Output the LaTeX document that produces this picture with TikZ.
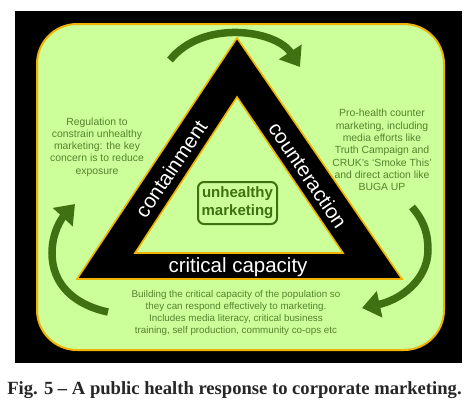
\documentclass[tikz,border=0pt]{standalone}
\usepackage{fontspec}
\setmainfont{Liberation Sans}
\newfontfamily\capfont{Liberation Serif}
\usetikzlibrary{arrows.meta}
\definecolor{bgreen}{RGB}{204,255,153}
\definecolor{ygold}{RGB}{240,180,0}
\definecolor{agreen}{RGB}{63,112,17}
\definecolor{tgreen}{RGB}{84,130,45}
\begin{document}
\begin{tikzpicture}[x=1pt,y=-1pt,
  panel/.style={draw=ygold, line width=2pt, fill=bgreen, rounded corners=40pt},
  tri/.style={draw=ygold, line width=1.6pt, fill=black, line join=miter},
  innertri/.style={draw=ygold, line width=1.6pt, fill=bgreen, line join=miter},
  band/.style={text=white, inner sep=0pt, font=\fontsize{20.5}{24}\selectfont},
  para/.style={text=tgreen, align=center, inner sep=0pt, font=\fontsize{10.4}{12.3}\selectfont},
  core/.style={draw=agreen, line width=2pt, rounded corners=6pt, text=agreen, align=center,
    font=\bfseries\fontsize{15}{18}\selectfont, minimum width=79pt, minimum height=42pt, inner sep=0pt},
  bigarrow/.style={draw=agreen, line width=7.5pt, -{Triangle[length=18pt,width=26pt]}},
  captext/.style={font=\capfont\bfseries\fontsize{18.6}{22}\selectfont, text=black!85, inner sep=0pt, anchor=base}
]
\useasboundingbox (0,0) rectangle (467,415);
\fill[white] (0,0) rectangle (467,415);
\fill[black] (15,11) rectangle (462,363);
\draw[panel] (37,24) rectangle (444,350);

% triangle
\draw[tri] (237,38) -- (402,279) -- (77,279) -- cycle;
\draw[innertri] (237,97) -- (343,253) -- (135,253) -- cycle;

\node[band, rotate=56] (cont) at (171,169) {containment};
\node[band, rotate=-56] (counter) at (308,175) {counteraction};
\node[band] (crit) at (238,267) {critical capacity};

\node[core] (core) at (237.5,203) {unhealthy\\marketing};

% texts
\node[para] (reg) at (97,147) {Regulation to\\constrain unhealthy\\marketing: the key\\concern is to reduce\\exposure};
\node[para] (pro) at (382,150) {Pro-health counter\\marketing, including\\media efforts like\\Truth Campaign and\\CRUK’s ‘Smoke This’\\and direct action like\\BUGA UP};
\node[para, font=\fontsize{9.8}{12.3}\selectfont] (build) at (236,313) {Building the critical capacity of the population so\\they can respond effectively to marketing.\\Includes media literacy, critical business\\training, self production, community co-ops etc};

% arrows
\coordinate (a1s) at (170,60);
\coordinate (a1e) at (300,67);
\coordinate (a2s) at (412,207);
\coordinate (a2m) at (428,250);
\coordinate (a2e) at (362,308);
\coordinate (a3s) at (108,312);
\coordinate (a3m) at (52,253);
\coordinate (a3e) at (75,204);
\draw[bigarrow] (a1s) .. controls (203,19) and (276,30) .. (a1e);
\draw[bigarrow] (a2s) .. controls (425,222) and (428,235) .. (a2m) .. controls (428,280) and (400,300) .. (a2e);
\draw[bigarrow] (a3s) .. controls (75,305) and (52,285) .. (a3m) .. controls (52,232) and (62,218) .. (a3e);

\node[captext] (cap) at (234.5,394) {Fig. 5 – A public health response to corporate marketing.};
\end{tikzpicture}
\end{document}
